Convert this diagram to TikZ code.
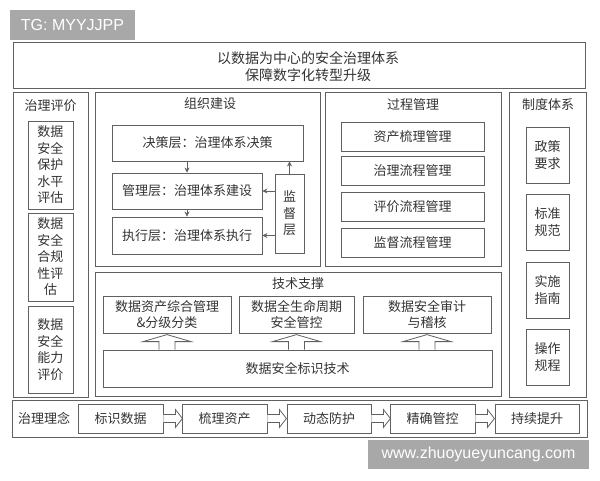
\documentclass[tikz,border=0pt]{standalone}
\usepackage{fontspec}
\setmainfont{Noto Sans CJK SC}
\newfontfamily\markfont{Liberation Sans}
\usetikzlibrary{arrows.meta}
\definecolor{linegray}{HTML}{606060}
\definecolor{textgray}{HTML}{333333}
\definecolor{markgray}{HTML}{A8A8A8}

\begin{document}
\begin{tikzpicture}[x=1pt, y=-1pt, thick, >={Stealth[length=5pt,width=5pt]},
    box/.style = {draw=linegray, rectangle, inner sep=0pt, text=textgray, align=center, font=\fontsize{13}{16.5}\selectfont},
    head/.style = {inner sep=0pt, text=textgray, align=center, font=\fontsize{13}{16.5}\selectfont},
    tagbox/.style = {fill=markgray, inner sep=0pt, text=white, font=\markfont\fontsize{16}{16}\selectfont},
    hollow/.style = {draw=linegray, fill=white}]
        \useasboundingbox (0,0) rectangle (600,480);

        % top
        \node[box, minimum width=572, minimum height=46] (top) at (299,65) {};
        \node[head, font=\fontsize{14}{17}\selectfont] (toptext) at (308,66.5) {以数据为中心的安全治理体系\\保障数字化转型升级};

        % left column
        \node[box, minimum width=75, minimum height=305] (eval) at (50.5,244.5) {};
        \node[head] (evaltitle) at (50.5,106) {治理评价};
        \node[box, minimum width=45, minimum height=88] (e1) at (50.5,165) {数据\\安全\\保护\\水平\\评估};
        \node[box, minimum width=45, minimum height=88] (e2) at (50.5,257) {数据\\安全\\合规\\性评\\估};
        \node[box, minimum width=45, minimum height=87] (e3) at (50.5,349.5) {数据\\安全\\能力\\评价};

        % organisation
        \node[box, minimum width=225, minimum height=174] (org) at (207.5,179) {};
        \node[head] (orgtitle) at (210,104) {组织建设};
        \node[box, minimum width=191, minimum height=36] (jc) at (207.5,143) {决策层：治理体系决策};
        \node[box, minimum width=150, minimum height=36] (gl) at (187,191) {管理层：治理体系建设};
        \node[box, minimum width=150, minimum height=37] (zx) at (187,235.5) {执行层：治理体系执行};
        \node[box, minimum width=29, minimum height=79] (jd) at (289.5,213.5) {监\\督\\层};
        \draw[->, linegray] (jc.south -| gl) -- (gl);
        \draw[->, linegray] (gl) -- (zx);
        \draw[->, linegray] (jd) -- (jd |- jc.south);
        \draw[->, linegray] (jd.west |- gl) -- (gl);
        \draw[->, linegray] (jd.west |- zx) -- (zx);

        % process
        \node[box, minimum width=176, minimum height=174] (proc) at (413,179) {};
        \node[head] (proctitle) at (413,105) {过程管理};
        \node[box, minimum width=143, minimum height=29] (p1) at (412.5,136.5) {资产梳理管理};
        \node[box, minimum width=143, minimum height=29] (p2) at (412.5,171) {治理流程管理};
        \node[box, minimum width=143, minimum height=29] (p3) at (412.5,207) {评价流程管理};
        \node[box, minimum width=143, minimum height=29] (p4) at (412.5,243) {监督流程管理};

        % right column
        \node[box, minimum width=77, minimum height=305] (sys) at (547.5,244.5) {};
        \node[head] (systitle) at (548,105) {制度体系};
        \node[box, minimum width=43, minimum height=56] (r1) at (547.5,155) {政策\\要求};
        \node[box, minimum width=43, minimum height=56] (r2) at (547.5,222) {标准\\规范};
        \node[box, minimum width=43, minimum height=56] (r3) at (547.5,290) {实施\\指南};
        \node[box, minimum width=43, minimum height=56] (r4) at (547.5,357) {操作\\规程};

        % technology
        \node[box, minimum width=406, minimum height=124] (tech) at (298,334) {};
        \node[head] (techtitle) at (298,284) {技术支撑};
        \node[box, minimum width=128, minimum height=37] (t1) at (167,314.5) {数据资产综合管理\\\&分级分类};
        \node[box, minimum width=115, minimum height=37] (t2) at (296.5,314.5) {数据全生命周期\\安全管控};
        \node[box, minimum width=128, minimum height=37] (t3) at (427,314.5) {数据安全审计\\与稽核};
        \node[box, minimum width=389, minimum height=37] (base) at (297.5,368.5) {数据安全标识技术};
        \foreach \t in {t1,t2,t3}
            \draw[hollow] (base.north -| \t) ++(-8,0) -- ++(0,-8) -- ++(-16,0) -- ++(24,-7) -- ++(24,7) -- ++(-16,0) -- ++(0,8);

        % idea row
        \node[box, minimum width=575, minimum height=37] (idea) at (299.5,418.5) {};
        \node[head] (ideatitle) at (44,418.5) {治理理念};
        \node[box, minimum width=85, minimum height=29] (c1) at (120.5,418.5) {标识数据};
        \node[box, minimum width=85, minimum height=29] (c2) at (224.5,418.5) {梳理资产};
        \node[box, minimum width=84, minimum height=29] (c3) at (329,418.5) {动态防护};
        \node[box, minimum width=85, minimum height=29] (c4) at (432.5,418.5) {精确管控};
        \node[box, minimum width=84, minimum height=29] (c5) at (537,418.5) {持续提升};
        \foreach \c in {c1,c2,c3,c4}
            \draw[hollow] (\c.east) ++(0,-4) -- ++(12,0) -- ++(0,-5) -- ++(7,9) -- ++(-7,9) -- ++(0,-5) -- ++(-12,0);

        % watermarks
        \node[tagbox, minimum width=125, minimum height=30] (tag1) at (72.5,25) {TG: MYYJJPP};
        \node[tagbox, minimum width=221, minimum height=29] (tag2) at (478.5,454.5) {www.zhuoyueyuncang.com};
    \end{tikzpicture}
\end{document}
